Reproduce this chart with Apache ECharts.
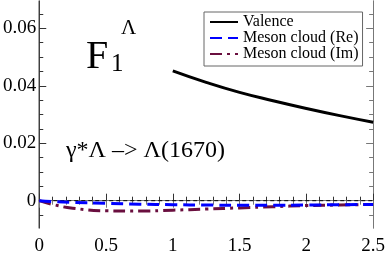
<!DOCTYPE html>
<html>
<head>
<meta charset="utf-8">
<script src="https://cdn.jsdelivr.net/npm/echarts@6/dist/echarts.min.js"></script>
<style>html,body{margin:0;padding:0;background:#fff}#c{width:388px;height:256px}</style>
</head>
<body>
<div id="c"></div>
<script>
// ---- data ----
var seriesNames = ['Valence', 'Meson cloud (Re)', 'Meson cloud (Im)'];
var valenceX = [1.0, 1.25, 1.5, 1.75, 2.0, 2.25, 2.5];
var valenceY = [0.0452, 0.0412, 0.0377, 0.0348, 0.0321, 0.0296, 0.0273];
var mesonX = [0, 0.1, 0.25, 0.5, 0.75, 1.0, 1.25, 1.5, 1.75, 2.0, 2.25, 2.5];
var mesonReY = [0, -0.0003, -0.0006, -0.0009, -0.0012, -0.0014, -0.0015, -0.0016, -0.0016, -0.0015, -0.0014, -0.0013];
var mesonImY = [0, -0.0013, -0.0026, -0.0035, -0.0036, -0.0033, -0.0029, -0.0025, -0.0021, -0.0017, -0.0015, -0.0013];
var yMajorTicks = [0, 0.02, 0.04, 0.06];
var yMinorTicks = [-0.005, 0.005, 0.01, 0.015, 0.025, 0.03, 0.035, 0.045, 0.05, 0.055, 0.065];
var zeroLineX = [0, 2.5];

function pairs(xs, ys) { return xs.map(function (x, i) { return [x, ys[i]]; }); }

var FONT = 'Liberation Serif';
var chart = echarts.init(document.getElementById('c'), null, { renderer: 'canvas' });

function yAxisDef(pos, ticks, len, labels, color) {
  return {
    type: 'value', position: pos, min: -0.0095, max: 0.0695,
    axisLine: { show: true, lineStyle: { color: color, width: 1 } },
    axisTick: { show: true, inside: true, length: len, customValues: ticks, lineStyle: { color: color } },
    axisLabel: labels ? {
      show: true, customValues: yMajorTicks, margin: 3, color: '#000',
      fontFamily: FONT, fontSize: 19, padding: [4, 0, 0, 0],
      formatter: function (v) { return v === 0 ? '0' : String(v); }
    } : { show: false },
    splitLine: { show: false }
  };
}
function xAxisDef(pos, labels, color) {
  return {
    type: 'value', position: pos, min: 0, max: 2.5, interval: 0.5,
    axisLine: { show: true, lineStyle: { color: color, width: 1 } },
    axisTick: { show: true, inside: true, length: 7, lineStyle: { color: color } },
    minorTick: { show: true, splitNumber: 5, length: 4, lineStyle: { color: color } },
    axisLabel: labels ? {
      show: true, margin: 9, color: '#000', fontFamily: FONT, fontSize: 19,
      formatter: function (v) { return String(v); }
    } : { show: false },
    splitLine: { show: false }, minorSplitLine: { show: false }
  };
}

chart.setOption({
  animation: false,
  backgroundColor: '#fff',
  grid: { left: 36, right: 13, top: 1, bottom: 18, containLabel: false },
  xAxis: [xAxisDef('bottom', true, '#333'), xAxisDef('top', false, '#777')],
  yAxis: [
    yAxisDef('left', yMajorTicks, 7, true, '#333'),
    yAxisDef('left', yMinorTicks, 4, false, '#333'),
    yAxisDef('right', yMajorTicks, 7, false, '#777'),
    yAxisDef('right', yMinorTicks, 4, false, '#777')
  ],
  legend: {
    data: seriesNames, orient: 'vertical', left: 204, top: 12,
    padding: [2, 4, 4, 5], itemGap: 0, itemWidth: 28, itemHeight: 15,
    borderColor: '#666', borderWidth: 1, backgroundColor: '#fff',
    itemStyle: { opacity: 0 },
    textStyle: { fontFamily: FONT, fontSize: 16, color: '#000', lineHeight: 15 }
  },
  graphic: [
    { type: 'text', x: 86, y: 57, style: { text: 'F', fontFamily: FONT, fontSize: 40, fill: '#000', verticalAlign: 'middle' } },
    { type: 'text', x: 111, y: 64, style: { text: '1', fontFamily: FONT, fontSize: 25, fill: '#000', verticalAlign: 'middle' } },
    { type: 'text', x: 121, y: 28, style: { text: 'Λ', fontFamily: FONT, fontSize: 21, fill: '#000', verticalAlign: 'middle' } },
    { type: 'text', x: 66, y: 151, style: { text: 'γ*Λ –> Λ(1670)', fontFamily: FONT, fontSize: 24, fill: '#000', verticalAlign: 'middle' } }
  ],
  series: [
    { name: 'zero', type: 'line', data: pairs(zeroLineX, [0, 0]), symbol: 'none', silent: true, z: 1,
      lineStyle: { color: '#000', width: 1, type: [4, 3] } },
    { name: seriesNames[0], type: 'line', data: pairs(valenceX, valenceY), symbol: 'none', smooth: true, z: 3,
      lineStyle: { color: '#000', width: 3 }, itemStyle: { color: '#000' } },
    { name: seriesNames[1], type: 'line', data: pairs(mesonX, mesonReY), symbol: 'none', smooth: true, z: 3,
      lineStyle: { color: '#0000ff', width: 3, type: [12, 6] }, itemStyle: { color: '#0000ff' } },
    { name: seriesNames[2], type: 'line', data: pairs(mesonX, mesonImY), symbol: 'none', smooth: true, z: 2,
      lineStyle: { color: '#6a0f3f', width: 3, type: [12, 5, 3, 5] }, itemStyle: { color: '#6a0f3f' } }
  ]
});
</script>
</body>
</html>
